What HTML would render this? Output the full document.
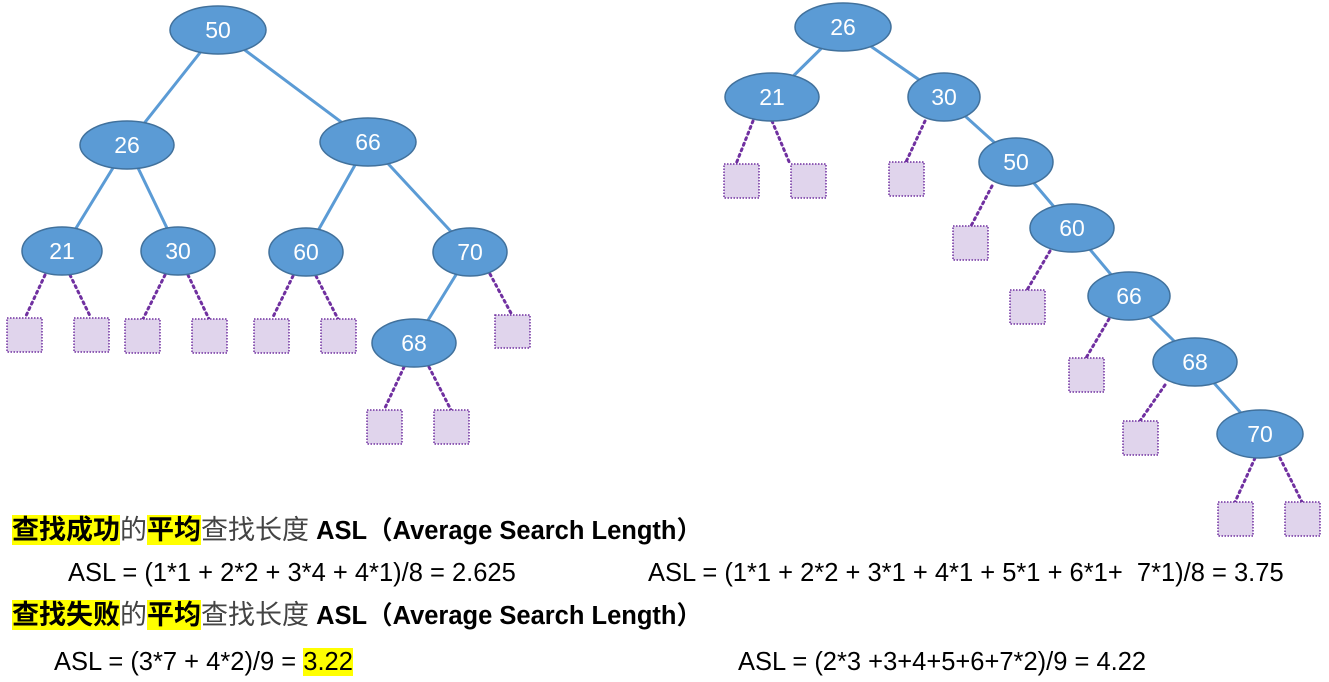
<!DOCTYPE html>
<html><head><meta charset="utf-8"><style>
body{margin:0;background:#fff;width:1329px;height:682px;overflow:hidden;font-family:"Liberation Sans","Noto Sans CJK SC",sans-serif;}
svg{position:absolute;left:0;top:0}
.t{position:absolute;white-space:nowrap;font-size:25.5px;color:#000;line-height:30px}
.c{font-size:27px}
.h{background:#ffff00}
.b{font-weight:bold}
.g{color:#444}
</style></head><body>
<svg width="1329" height="682" viewBox="0 0 1329 682">
<g stroke="#5B9BD5" stroke-width="3" fill="none">
<line x1="218" y1="30" x2="127" y2="145"/><line x1="218" y1="30" x2="368" y2="142"/>
<line x1="127" y1="145" x2="62" y2="251"/><line x1="127" y1="145" x2="178" y2="251"/>
<line x1="368" y1="142" x2="306" y2="252"/><line x1="368" y1="142" x2="470" y2="252"/>
<line x1="470" y1="252" x2="414" y2="343"/>
<line x1="843" y1="27" x2="772" y2="97"/><line x1="843" y1="27" x2="944" y2="97"/>
<line x1="944" y1="97" x2="1016" y2="162"/><line x1="1016" y1="162" x2="1072" y2="228"/>
<line x1="1072" y1="228" x2="1129" y2="296"/><line x1="1129" y1="296" x2="1195" y2="362"/>
<line x1="1195" y1="362" x2="1260" y2="434"/>
</g>
<g stroke="#7030A0" stroke-width="3" stroke-dasharray="2 4" stroke-linecap="round">
<line x1="45" y1="275" x2="25" y2="318"/><line x1="70" y1="275" x2="91" y2="318"/>
<line x1="165" y1="275" x2="143" y2="319"/><line x1="188" y1="275" x2="209" y2="319"/>
<line x1="293" y1="276" x2="272" y2="319"/><line x1="316" y1="276" x2="338" y2="319"/>
<line x1="490" y1="274" x2="512" y2="315"/>
<line x1="404" y1="367" x2="384" y2="410"/><line x1="429" y1="367" x2="451" y2="410"/>
<line x1="753" y1="121" x2="736" y2="164"/><line x1="772" y1="121" x2="790" y2="164"/>
<line x1="890" y1="122" x2="873" y2="162" stroke="none"/>
<line x1="891" y1="121" x2="873" y2="162" stroke="none"/>
<line x1="891" y1="121" x2="872" y2="162" stroke="none"/>
<line x1="891" y1="121" x2="872" y2="162" stroke="none"/>
<line x1="891" y1="121" x2="872" y2="162" stroke="none"/>
<line x1="891" y1="121" x2="872" y2="162" stroke="none"/>
<line x1="890" y1="121" x2="872" y2="162" stroke="none"/>
<line x1="890" y1="121" x2="872" y2="162" stroke="none"/>
<line x1="890" y1="121" x2="872" y2="162" stroke="none"/>
<line x1="891" y1="121" x2="872" y2="162" stroke="none"/>
<line x1="890" y1="121" x2="872" y2="162" stroke="none"/>
<line x1="890" y1="121" x2="872" y2="162" stroke="none"/>
<line x1="925" y1="121" x2="906" y2="162"/>
<line x1="943" y1="186" x2="970" y2="226" stroke="none"/>
<line x1="992" y1="186" x2="971" y2="226"/>
<line x1="1050" y1="251" x2="1027" y2="290"/>
<line x1="1109" y1="319" x2="1086" y2="358"/>
<line x1="1165" y1="385" x2="1140" y2="421"/>
<line x1="1255" y1="458" x2="1235" y2="502"/><line x1="1280" y1="458" x2="1302" y2="502"/>
</g>
<g fill="#E0D4EC" stroke="#7030A0" stroke-width="1.5" stroke-dasharray="1.5 1.5">
<rect x="7" y="318" width="35" height="34"/><rect x="74" y="318" width="35" height="34"/>
<rect x="125" y="319" width="35" height="34"/><rect x="192" y="319" width="35" height="34"/>
<rect x="254" y="319" width="35" height="34"/><rect x="321" y="319" width="35" height="34"/>
<rect x="495" y="315" width="35" height="33"/>
<rect x="367" y="410" width="35" height="34"/><rect x="434" y="410" width="35" height="34"/>
<rect x="724" y="164" width="35" height="34"/><rect x="791" y="164" width="35" height="34"/>
<rect x="889" y="162" width="35" height="34"/><rect x="953" y="226" width="35" height="34"/>
<rect x="1010" y="290" width="35" height="34"/><rect x="1069" y="358" width="35" height="34"/>
<rect x="1123" y="421" width="35" height="34"/>
<rect x="1218" y="502" width="35" height="34"/><rect x="1285" y="502" width="35" height="34"/>
</g>
<g fill="#5B9BD5" stroke="#41719C" stroke-width="1.5">
<ellipse cx="218" cy="30" rx="48" ry="24"/><ellipse cx="127" cy="145" rx="47" ry="24"/>
<ellipse cx="368" cy="142" rx="48" ry="24"/><ellipse cx="62" cy="251" rx="40" ry="24"/>
<ellipse cx="178" cy="251" rx="37" ry="24"/><ellipse cx="306" cy="252" rx="37" ry="24"/>
<ellipse cx="470" cy="252" rx="37" ry="24"/><ellipse cx="414" cy="343" rx="42" ry="24"/>
<ellipse cx="843" cy="27" rx="48" ry="24"/><ellipse cx="772" cy="97" rx="47" ry="24"/>
<ellipse cx="944" cy="97" rx="36" ry="24"/><ellipse cx="1016" cy="162" rx="37" ry="24"/>
<ellipse cx="1072" cy="228" rx="42" ry="24"/><ellipse cx="1129" cy="296" rx="41" ry="24"/>
<ellipse cx="1195" cy="362" rx="42" ry="24"/><ellipse cx="1260" cy="434" rx="43" ry="24"/>
</g>
<g fill="#fff" font-family="Liberation Sans, sans-serif" font-size="23" text-anchor="middle">
<text x="218" y="38">50</text><text x="127" y="153">26</text><text x="368" y="150">66</text>
<text x="62" y="259">21</text><text x="178" y="259">30</text><text x="306" y="260">60</text>
<text x="470" y="260">70</text><text x="414" y="351">68</text>
<text x="843" y="35">26</text><text x="772" y="105">21</text><text x="944" y="105">30</text>
<text x="1016" y="170">50</text><text x="1072" y="236">60</text><text x="1129" y="304">66</text>
<text x="1195" y="370">68</text><text x="1260" y="442">70</text>
</g>
</svg>
<div class="t" style="left:12px;top:515px"><span class="h b c">查找成功</span><span class="g c">的</span><span class="h b c">平均</span><span class="g c">查找长度</span> <span class="b">ASL（Average Search Length）</span></div>
<div class="t" style="left:68px;top:558px">ASL = (1*1 + 2*2 + 3*4 + 4*1)/8 = 2.625</div>
<div class="t" style="left:648px;top:558px">ASL = (1*1 + 2*2 + 3*1 + 4*1 + 5*1 + 6*1+ &nbsp;7*1)/8 = 3.75</div>
<div class="t" style="left:12px;top:600px"><span class="h b c">查找失败</span><span class="g c">的</span><span class="h b c">平均</span><span class="g c">查找长度</span> <span class="b">ASL（Average Search Length）</span></div>
<div class="t" style="left:54px;top:647px">ASL = (3*7 + 4*2)/9 = <span class="h">3.22</span></div>
<div class="t" style="left:738px;top:647px">ASL = (2*3 +3+4+5+6+7*2)/9 = 4.22</div>
</body></html>
